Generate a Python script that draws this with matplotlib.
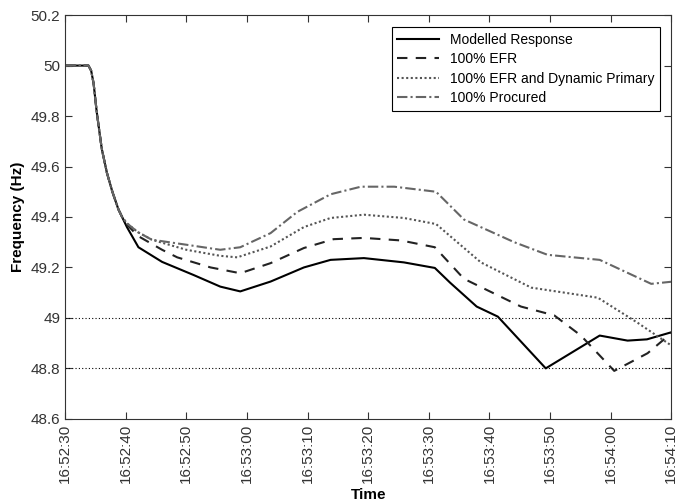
import numpy as np
import pandas as pd
import matplotlib
matplotlib.use("Agg")
import matplotlib.pyplot as plt
import matplotlib.dates as mdates

plt.rcParams["font.family"] = ["Liberation Sans", "DejaVu Sans"]

# seconds after 16:52:30
t_common = [0, 3.85, 4.3, 4.7, 5.2, 6.05, 6.9, 7.8, 8.8, 9.4]
f_common = [50.0, 50.0, 49.98, 49.93, 49.82, 49.67, 49.575, 49.50, 49.43, 49.40]

t_model = [10.2, 12.1, 16.0, 21.2, 25.6, 28.9, 33.9, 39.4, 43.8, 49.3, 55.9,
           61.0, 63.5, 67.9, 71.4, 79.3, 88.2, 92.8, 96.0, 100.3]
f_model = [49.36, 49.28, 49.222, 49.17, 49.124, 49.105, 49.144, 49.20, 49.23,
           49.237, 49.22, 49.198, 49.14, 49.045, 49.005, 48.80, 48.93, 48.91, 48.915, 48.945]

t_efr = [10.2, 12.0, 16.0, 18.5, 24.0, 28.9, 33.9, 39.4, 44.3, 49.3, 55.4, 61.0, 65.8,
         75.2, 80.7, 85.1, 90.6, 96.1, 100.3]
f_efr = [49.37, 49.325, 49.27, 49.24, 49.20, 49.177, 49.217, 49.277, 49.312, 49.317, 49.307,
         49.28, 49.155, 49.045, 49.01, 48.93, 48.79, 48.86, 48.945]

t_dyn = [10.2, 12.0, 14.3, 20.0, 25.6, 28.4, 33.9, 39.4, 43.8, 49.3, 55.9, 61.2, 68.6,
         76.9, 87.9, 94.5, 100.3]
f_dyn = [49.375, 49.34, 49.31, 49.27, 49.246, 49.24, 49.283, 49.36, 49.396, 49.409, 49.396,
         49.372, 49.22, 49.12, 49.08, 48.98, 48.886]

t_proc = [10.2, 12.0, 14.3, 20.0, 25.6, 28.9, 33.9, 38.3, 43.8, 48.8, 54.3, 61.2, 65.8,
          74.1, 79.6, 88.2, 96.7, 100.3]
f_proc = [49.375, 49.34, 49.31, 49.29, 49.27, 49.28, 49.336, 49.42, 49.49, 49.52, 49.52,
          49.50, 49.39, 49.30, 49.25, 49.23, 49.135, 49.144]

limits = [49.0, 48.8]

start = pd.Timestamp("2017-01-01 16:52:30")


def to_time(secs):
    return (start + pd.to_timedelta(np.array(t_common + secs), unit="s")).to_numpy()


fig = plt.figure(figsize=(6.78, 5.04), dpi=100)
ax = fig.add_axes([0.096, 0.169, 0.894, 0.801])

ax.plot(to_time(t_model), f_common + f_model, color="black", lw=1.5, label="Modelled Response")
ax.plot(to_time(t_efr), f_common + f_efr, color="#222222", lw=1.5, ls=(0, (5, 4)),
        label="100% EFR")
ax.plot(to_time(t_dyn), f_common + f_dyn, color="#555555", lw=1.5, ls=(0, (1, 1.2)),
        label="100% EFR and Dynamic Primary")
ax.plot(to_time(t_proc), f_common + f_proc, color="#666666", lw=1.5, ls=(0, (5, 1.5, 1, 1.5)),
        label="100% Procured")

for y in limits:
    ax.axhline(y, color="black", lw=0.8, ls=(0, (1, 2)))

ax.set_xlim(start, start + pd.Timedelta(seconds=100))
ax.set_ylim(48.6, 50.2)
ax.set_yticks(np.arange(48.6, 50.21, 0.2))
ax.set_yticklabels(["48.6", "48.8", "49", "49.2", "49.4", "49.6", "49.8", "50", "50.2"])
ax.xaxis.set_major_locator(mdates.SecondLocator(bysecond=range(0, 60, 10)))
ax.xaxis.set_major_formatter(mdates.DateFormatter("%H:%M:%S"))
plt.setp(ax.get_xticklabels(), rotation=90)

ax.tick_params(direction="in", top=True, right=True, labelsize=11, colors="#333333",
               length=5)
for s in ax.spines.values():
    s.set_color("#333333")
    s.set_linewidth(0.8)

ax.set_xlabel("Time", fontsize=11, fontweight="bold")
ax.set_ylabel("Frequency (Hz)", fontsize=11, fontweight="bold")

leg = ax.legend(loc="upper right", bbox_to_anchor=(0.982, 0.970), borderaxespad=0,
                fontsize=10, fancybox=False, framealpha=1, edgecolor="black",
                handlelength=3, labelspacing=0.39)
leg.get_frame().set_linewidth(0.8)

fig.savefig("out.png", dpi=100)
